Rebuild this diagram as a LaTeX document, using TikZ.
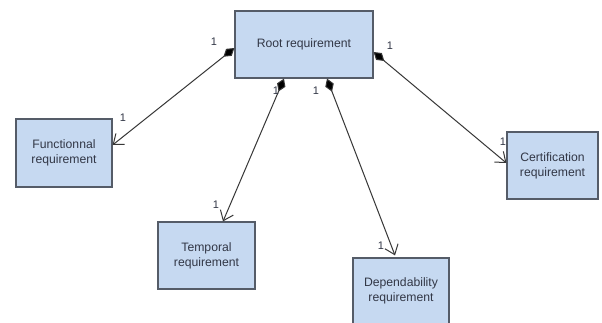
\documentclass[tikz,border=0pt]{standalone}
\usepackage{fontspec}
\setmainfont{Liberation Sans}
\usetikzlibrary{arrows.meta}
\definecolor{boxfill}{RGB}{198,217,241}
\definecolor{boxline}{RGB}{85,92,104}
\definecolor{txt}{RGB}{50,55,70}
\definecolor{conn}{RGB}{55,55,55}
\tikzset{
  box/.style={draw=boxline, line width=1.2pt, fill=boxfill, text=txt, align=center,
    font=\fontsize{12.2}{15}\selectfont, inner sep=0pt},
  link/.style={draw=conn, line width=1pt,
    {Diamond[length=14pt,width=9pt,fill=black]}-{Straight Barb[length=9pt,width=14pt,line width=1pt]}},
  mult/.style={text=txt, font=\fontsize{11}{12}\selectfont, inner sep=0pt}
}
\begin{document}
\begin{tikzpicture}[x=1pt,y=-1pt]
\clip (0,0) rectangle (602,322);
\fill[white] (0,0) rectangle (602,322);
\node[box, minimum width=138pt, minimum height=67pt] (root) at (304,44.5) {Root requirement};
\node[box, minimum width=96pt, minimum height=68pt] (func) at (64,153) {Functionnal\\requirement};
\node[box, minimum width=97pt, minimum height=67pt] (temp) at (206.5,255.5) {Temporal\\requirement};
\node[box, minimum width=96pt, minimum height=66pt] (dep) at (401,291) {Dependability\\requirement};
\node[box, minimum width=91pt, minimum height=67pt] (cert) at (552.5,165.5) {Certification\\requirement};

\draw[link] ([yshift=-3.5pt]root.west) -- ([yshift=8pt]func.east);
\draw[link] ([xshift=-20pt]root.south) -- ([xshift=16.5pt]temp.north);
\draw[link] ([xshift=23pt]root.south) -- ([xshift=-6pt,yshift=2pt]dep.north);
\draw[link] ([yshift=-7.5pt]root.east) -- ([yshift=2.5pt]cert.west);

\node[mult] (m1) at (214,42) {1};
\node[mult] (m2) at (390,46) {1};
\node[mult] (m3) at (276,91) {1};
\node[mult] (m4) at (316,91) {1};
\node[mult] (m5) at (123,118) {1};
\node[mult] (m6) at (216,205) {1};
\node[mult] (m7) at (381,246) {1};
\node[mult] (m8) at (503,142) {1};
\end{tikzpicture}
\end{document}
